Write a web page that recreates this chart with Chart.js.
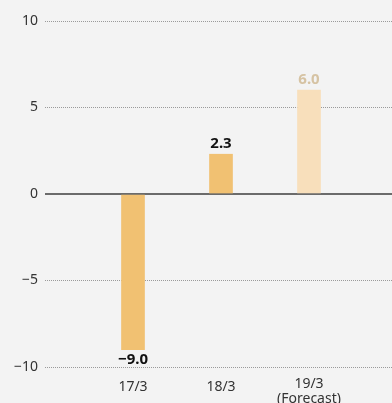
<!DOCTYPE html>
<html>
<head>
<meta charset="utf-8">
<script src="https://cdn.jsdelivr.net/npm/chart.js@4"></script>
<style>
html,body{margin:0;padding:0;background:#f3f3f3;overflow:hidden;width:392px;height:403px;}
canvas{position:absolute;left:0;top:0;}
</style>
</head>
<body>
<canvas id="c" width="397" height="403"></canvas>
<script>
const categories = ['', '17/3', '18/3', ['19/3', '(Forecast)'], ''];
const values = [null, -9.0, 2.3, 6.0, null];
const valueLabels = ['', '\u22129.0', '2.3', '6.0', ''];
const yTicks = [-10, -5, 0, 5, 10];

const barColors = ['#f1c172', '#f1c172', '#f1c172', '#f8dfbb', '#f1c172'];
const labelColors = ['#111', '#111', '#111', '#d6c3a3', '#111'];

const valueLabelPlugin = {
  id: 'valueLabels',
  afterDatasetsDraw(chart) {
    const ctx = chart.ctx;
    const meta = chart.getDatasetMeta(0);
    ctx.save();
    ctx.font = 'bold 15px "Noto Sans"';
    ctx.textAlign = 'center';
    meta.data.forEach((bar, i) => {
      const v = values[i];
      if (v === null || v === undefined) return;
      ctx.fillStyle = labelColors[i];
      ctx.textBaseline = 'alphabetic';
      if (v >= 0) {
        ctx.fillText(valueLabels[i], bar.x, bar.y - 6);
      } else {
        ctx.fillText(valueLabels[i], bar.x, bar.y + 14);
      }
    });
    ctx.restore();
  }
};

new Chart(document.getElementById('c'), {
  type: 'bar',
  data: {
    labels: categories,
    datasets: [{
      data: values,
      backgroundColor: barColors,
      barThickness: 23,
      borderWidth: 0
    }]
  },
  options: {
    responsive: false,
    animation: false,
    layout: { padding: { top: 21, left: 0, right: 0, bottom: 0 } },
    plugins: { legend: { display: false }, tooltip: { enabled: false } },
    scales: {
      x: {
        offset: false,
        grid: { display: false, drawTicks: false },
        border: { display: false },
        ticks: {
          color: '#333',
          font: ctx => ({
            family: 'Noto Sans',
            size: 14,
            lineHeight: Array.isArray(categories[ctx.index]) ? 1.05 : 1.5
          }),
          padding: 10,
          maxRotation: 0,
          autoSkip: false
        },
        afterFit(scale) {
          scale.height = 36;
          scale.paddingLeft = 0;
          scale.paddingRight = 0;
        }
      },
      y: {
        min: -10,
        max: 10,
        afterBuildTicks(scale) { scale.ticks = yTicks.map(v => ({ value: v })); },
        grid: {
          color: ctx => ctx.tick && ctx.tick.value === 0 ? '#6b6b6b' : '#9a9a9a',
          lineWidth: ctx => ctx.tick && ctx.tick.value === 0 ? 2 : 1,
          drawTicks: false
        },
        border: {
          display: false,
          dash: ctx => ctx.tick && ctx.tick.value === 0 ? [] : [1, 1]
        },
        ticks: {
          color: '#333',
          font: { family: 'Noto Sans', size: 14 },
          padding: 7,
          callback: v => (v < 0 ? '\u2212' + Math.abs(v) : String(v))
        },
        afterFit(scale) { scale.width = 45; }
      }
    }
  },
  plugins: [valueLabelPlugin]
});
</script>
</body>
</html>
